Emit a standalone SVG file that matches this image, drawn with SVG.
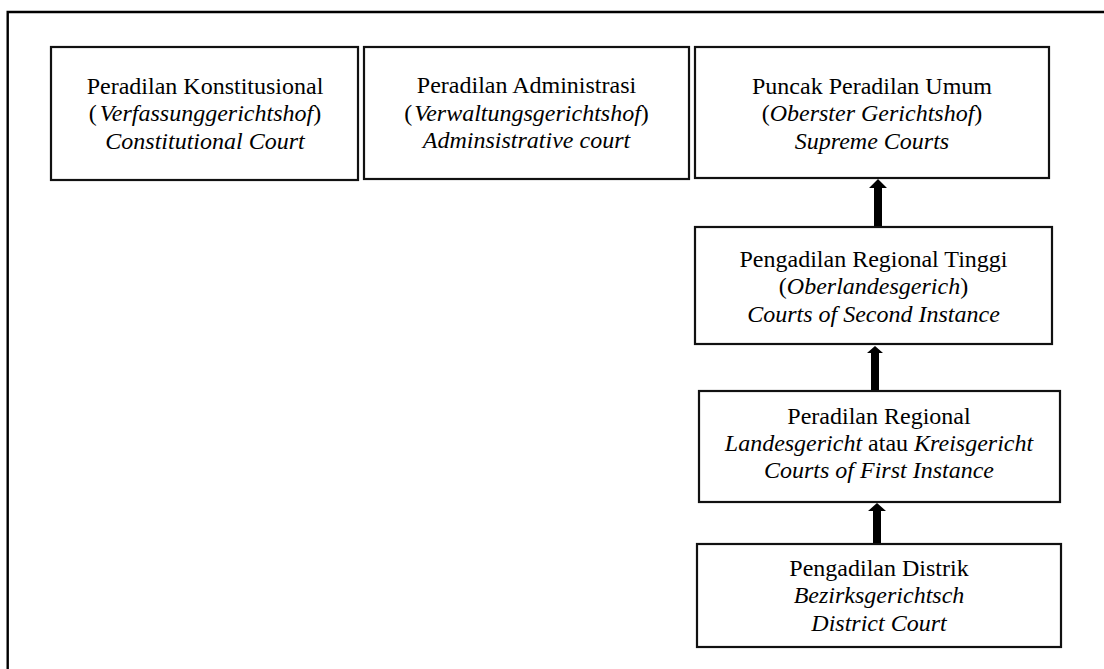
<svg xmlns="http://www.w3.org/2000/svg" width="1104" height="669" viewBox="0 0 1104 669">
<style>
.box{fill:#fff;stroke:#111;stroke-width:2.2}
.frame{fill:none;stroke:#000;stroke-width:2.4}
text{font-family:"Liberation Serif","Times New Roman",serif;font-size:24px;fill:#000;text-anchor:middle}
.i{font-style:italic}
.arr{fill:#000}
</style>
<rect width="1104" height="669" fill="#fff"/>
<path class="frame" d="M7.7,680 V12 H1110"/>
<g id="constitutional">
<rect class="box" x="51" y="47" width="307" height="133"/>
<text x="205" y="94">Peradilan Konstitusional</text>
<text x="205" y="121">(<tspan class="i" dx="3">Verfassunggerichtshof</tspan>)</text>
<text x="205" y="149" class="i">Constitutional Court</text>
</g>
<g id="administrative">
<rect class="box" x="364" y="47" width="325" height="132"/>
<text x="526.5" y="93">Peradilan Administrasi</text>
<text x="526.5" y="121">(<tspan class="i" dx="2">Verwaltungsgerichtshof</tspan>)</text>
<text x="526.5" y="148" class="i">Adminsistrative court</text>
</g>
<g id="supreme">
<rect class="box" x="695" y="47" width="354" height="131"/>
<text x="872" y="94">Puncak Peradilan Umum</text>
<text x="872" y="121">(<tspan class="i">Oberster Gerichtshof</tspan>)</text>
<text x="872" y="149" class="i">Supreme Courts</text>
</g>
<g id="second-instance">
<rect class="box" x="695" y="227" width="357" height="117"/>
<text x="873.5" y="267">Pengadilan Regional Tinggi</text>
<text x="873.5" y="294">(<tspan class="i">Oberlandesgerich</tspan>)</text>
<text x="873.5" y="322" class="i">Courts of Second Instance</text>
</g>
<g id="first-instance">
<rect class="box" x="699" y="391" width="361" height="111"/>
<text x="879" y="424">Peradilan Regional</text>
<text x="879" y="451"><tspan class="i">Landesgericht</tspan> atau <tspan class="i">Kreisgericht</tspan></text>
<text x="879" y="478" class="i">Courts of First Instance</text>
</g>
<g id="district">
<rect class="box" x="697" y="544" width="364" height="103"/>
<text x="879" y="576">Pengadilan Distrik</text>
<text x="879" y="603" class="i">Bezirksgerichtsch</text>
<text x="879" y="631" class="i">District Court</text>
</g>
<g id="connectors">
<path class="arr" d="M874,226 V188 H869 L878,179 L887,188 H882 V226 Z"/>
<path class="arr" d="M871,390 V353 H867 L875,346 L883,353 H879 V390 Z"/>
<path class="arr" d="M873,543 V511 H868 L877,503 L886,511 H881 V543 Z"/>
</g>
</svg>
